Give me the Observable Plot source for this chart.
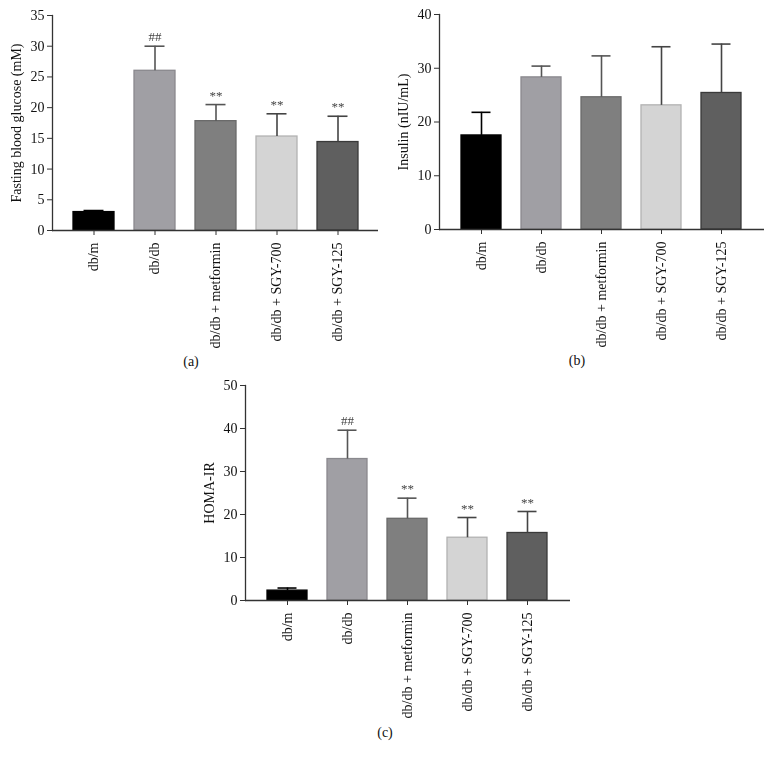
<!DOCTYPE html>
<html><head><meta charset="utf-8">
<script src="https://cdn.jsdelivr.net/npm/d3@7"></script>
<script src="https://cdn.jsdelivr.net/npm/@observablehq/plot@0.6"></script>
<style>
body{margin:0;background:#fff;}
#wrap{position:relative;width:772px;height:759px;font-family:"Liberation Serif","Times New Roman",serif;color:#111;}
.panel{position:absolute;will-change:transform;}
.cap{position:absolute;font-size:14px;transform:translate(-50%,-50%);white-space:nowrap;}
</style></head><body><div id="wrap"></div>
<script>
const groups = ["db/m", "db/db", "db/db + metformin", "db/db + SGY-700", "db/db + SGY-125"];
const fills = ["#000000", "#a09fa4", "#7f7f7f", "#d4d4d4", "#5f5f5f"];
const strokes = ["#000000", "#8a898e", "#6a6a6a", "#b2b2b2", "#3a3a3a"];
const errColors = ["#000000", "#555555", "#555555", "#444444", "#444444"];

const glucoseMean = [3.0, 26.0, 17.8, 15.3, 14.4];
const glucoseUpper = [3.25, 30.0, 20.5, 19.0, 18.6];
const glucoseSig = ["", "##", "**", "**", "**"];

const insulinMean = [17.5, 28.3, 24.6, 23.1, 25.4];
const insulinUpper = [21.8, 30.4, 32.3, 34.0, 34.5];
const insulinSig = ["", "", "", "", ""];

const homaMean = [2.3, 32.9, 19.0, 14.6, 15.7];
const homaUpper = [2.9, 39.6, 23.8, 19.3, 20.7];
const homaSig = ["", "##", "**", "**", "**"];

const panels = [
  {mean: glucoseMean, upper: glucoseUpper, sig: glucoseSig, max: 35, step: 5, label: "Fasting blood glucose (mM)", caption: "(a)", left: 0, top: 0, width: 386, marginLeft: 52, marginTop: 15, capX: 191, capY: 362},
  {mean: insulinMean, upper: insulinUpper, sig: insulinSig, max: 40, step: 10, label: "Insulin (nIU/mL)", caption: "(b)", left: 386, top: 0, width: 386, marginLeft: 53, marginTop: 14, capX: 577, capY: 361},
  {mean: homaMean, upper: homaUpper, sig: homaSig, max: 50, step: 10, label: "HOMA-IR", caption: "(c)", left: 193, top: 370, width: 385, marginLeft: 52, marginTop: 15, capX: 385, capY: 733}
];

const wrap = document.getElementById("wrap");
const axisColor = "#333";

for (const p of panels) {
  const data = groups.map((g, i) => ({group: g, mean: p.mean[i], upper: p.upper[i], sig: p.sig[i], fill: fills[i], stroke: strokes[i], err: errColors[i]}));
  const chart = Plot.plot({
    width: p.width,
    height: p.marginTop + 215 + 120,
    marginLeft: p.marginLeft,
    marginRight: 8,
    marginTop: p.marginTop,
    marginBottom: 120,
    style: {fontFamily: "'Liberation Serif', 'Times New Roman', serif", fontSize: "14px", color: "#111", background: "transparent", overflow: "visible"},
    x: {domain: groups, padding: 0.33},
    y: {domain: [0, p.max]},
    color: {type: "identity"},
    marks: [
      Plot.barY(data, {x: "group", y: "mean", fill: "fill", stroke: "stroke", strokeWidth: 1.3}),
      Plot.ruleX(data, {x: "group", y1: "mean", y2: "upper", stroke: "err", strokeWidth: 1.6}),
      Plot.tickY(data, {x: "group", y: "upper", stroke: "err", strokeWidth: 1.6, insetLeft: 10.5, insetRight: 10.5}),
      Plot.text(data.filter(d => d.sig), {x: "group", y: "upper", text: "sig", dy: -9, fontSize: 13, fill: "#444"}),
      Plot.ruleY([0], {stroke: axisColor, strokeWidth: 1.3}),
      Plot.frame({anchor: "left", stroke: axisColor, strokeWidth: 1.3}),
      Plot.axisY({ticks: d3.range(0, p.max + p.step / 2, p.step), tickSize: 5, tickPadding: 3, fontSize: 14, stroke: axisColor,
        label: p.label, labelAnchor: "center", labelArrow: "none", labelOffset: 41}),
      Plot.axisX({tickSize: 5, tickFormat: () => "", stroke: axisColor, label: null}),
      Plot.text(groups, {x: d => d, frameAnchor: "bottom", rotate: -90, textAnchor: "end", lineAnchor: "middle", dy: 12, fontSize: 14, fill: "#111"})
    ]
  });
  chart.classList.add("panel");
  chart.style.left = p.left + "px";
  chart.style.top = p.top + "px";
  wrap.appendChild(chart);
  const cap = document.createElement("div");
  cap.className = "cap";
  cap.textContent = p.caption;
  cap.style.left = p.capX + "px";
  cap.style.top = p.capY + "px";
  wrap.appendChild(cap);
}
</script>
</body></html>
